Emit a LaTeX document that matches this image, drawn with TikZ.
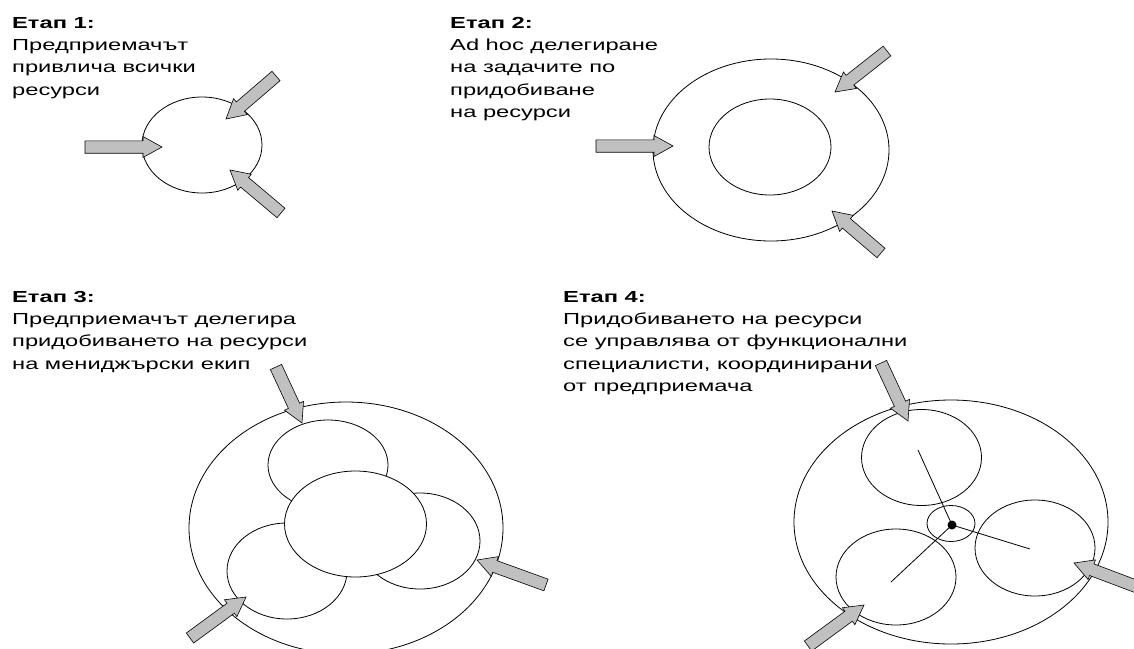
\documentclass[tikz,border=0pt]{standalone}
\usepackage{fontspec}
\setmainfont[FakeStretch=1.48]{Liberation Sans}
\usetikzlibrary{calc,shapes.geometric}
\definecolor{arrowgray}{RGB}{192,192,192}
\tikzset{
  ring/.style={ellipse, draw=black, line width=0.8pt, fill=white, inner sep=0pt, outer sep=0pt},
  barrow/.style={draw=black, line width=0.6pt, fill=arrowgray, line join=miter},
  spoke/.style={draw=black, line width=0.8pt},
  stagetext/.style={anchor=north west, align=left, inner sep=0pt, font=\fontsize{16}{22.3}\selectfont},
}
\newcommand\blockarrow[2]{%
  \coordinate (bah) at ($(#2)!19pt!(#1)$);
  \draw[barrow] ($(#1)!6.2pt!90:(#2)$) -- ($(bah)!6.2pt!90:(#2)$) -- ($(bah)!10.5pt!90:(#2)$) -- (#2) -- ($(bah)!10.5pt!-90:(#2)$) -- ($(bah)!6.2pt!-90:(#2)$) -- ($(#1)!6.2pt!-90:(#2)$) -- cycle;}
\begin{document}
\begin{tikzpicture}[x=1pt,y=-1pt]
\useasboundingbox (0,0) rectangle (1134,648);
\clip (0,0) rectangle (1134,648);
% ---------- Stage 1
\node[stagetext] (t1) at (12,17) {\textbf{Етап 1:}\\Предприемачът\\привлича всички\\ресурси};
\node[ring, minimum width=120, minimum height=96] (c1) at (202,145) {};
\coordinate (a1s) at (85,147);  \coordinate (a1e) at (162,147);
\coordinate (b1s) at (276,76);  \coordinate (b1e) at (226,119);
\coordinate (c1s) at (281,213); \coordinate (c1e) at (230,170);
\blockarrow{a1s}{a1e}\blockarrow{b1s}{b1e}\blockarrow{c1s}{c1e}
% ---------- Stage 2
\node[stagetext] (t2) at (450,17) {\textbf{Етап 2:}\\Ad hoc делегиране\\на задачите по\\придобиване\\на ресурси};
\node[ring, minimum width=236, minimum height=182] (o2) at (771,150) {};
\node[ring, minimum width=122, minimum height=96] (i2) at (770,147) {};
\coordinate (a2s) at (596,146); \coordinate (a2e) at (673,146);
\coordinate (b2s) at (887,51);  \coordinate (b2e) at (835,92);
\coordinate (c2s) at (881,253); \coordinate (c2e) at (832,211);
\blockarrow{a2s}{a2e}\blockarrow{b2s}{b2e}\blockarrow{c2s}{c2e}
% ---------- Stage 3
\node[stagetext] (t3) at (12,291) {\textbf{Етап 3:}\\Предприемачът делегира\\придобиването на ресурси\\на мениджърски екип};
\node[ring, minimum width=314, minimum height=252] (o3) at (346,528) {};
\node[ring, minimum width=120, minimum height=90] (tl3) at (328,465) {};
\node[ring, minimum width=120, minimum height=96] (r3) at (420,541) {};
\node[ring, minimum width=120, minimum height=96] (bl3) at (287,571) {};
\node[ring, minimum width=142, minimum height=106] (m3) at (355.5,524) {};
\coordinate (a3s) at (276,367); \coordinate (a3e) at (302,423);
\coordinate (b3s) at (546,585); \coordinate (b3e) at (477,560);
\coordinate (c3s) at (190,638); \coordinate (c3e) at (246,597);
\blockarrow{a3s}{a3e}\blockarrow{b3s}{b3e}\blockarrow{c3s}{c3e}
% ---------- Stage 4
\node[stagetext] (t4) at (563,291) {\textbf{Етап 4:}\\Придобиването на ресурси\\се управлява от функционални\\специалисти, координирани\\от предприемача};
\node[ring, minimum width=314, minimum height=244] (o4) at (951,522) {};
\node[ring, minimum width=120, minimum height=96] (t4c) at (921.5,457.5) {};
\node[ring, minimum width=120, minimum height=96] (r4) at (1035,548) {};
\node[ring, minimum width=120, minimum height=96] (bl4) at (896,577) {};
\node[ring, minimum width=48, minimum height=36] (s4) at (951,523.5) {};
\coordinate (hub) at (952,525);
\coordinate (e1) at (918,450); \coordinate (e2) at (1030,549); \coordinate (e3) at (891,582);
\draw[spoke] (hub) -- (e1) (hub) -- (e2) (hub) -- (e3);
\fill[black] (hub) circle[radius=4.5];
\coordinate (a4s) at (881,363);  \coordinate (a4e) at (908,421);
\coordinate (b4s) at (1143,589); \coordinate (b4e) at (1074,563);
\coordinate (c4s) at (808,646);  \coordinate (c4e) at (864,605);
\blockarrow{a4s}{a4e}\blockarrow{b4s}{b4e}\blockarrow{c4s}{c4e}
\end{tikzpicture}
\end{document}
